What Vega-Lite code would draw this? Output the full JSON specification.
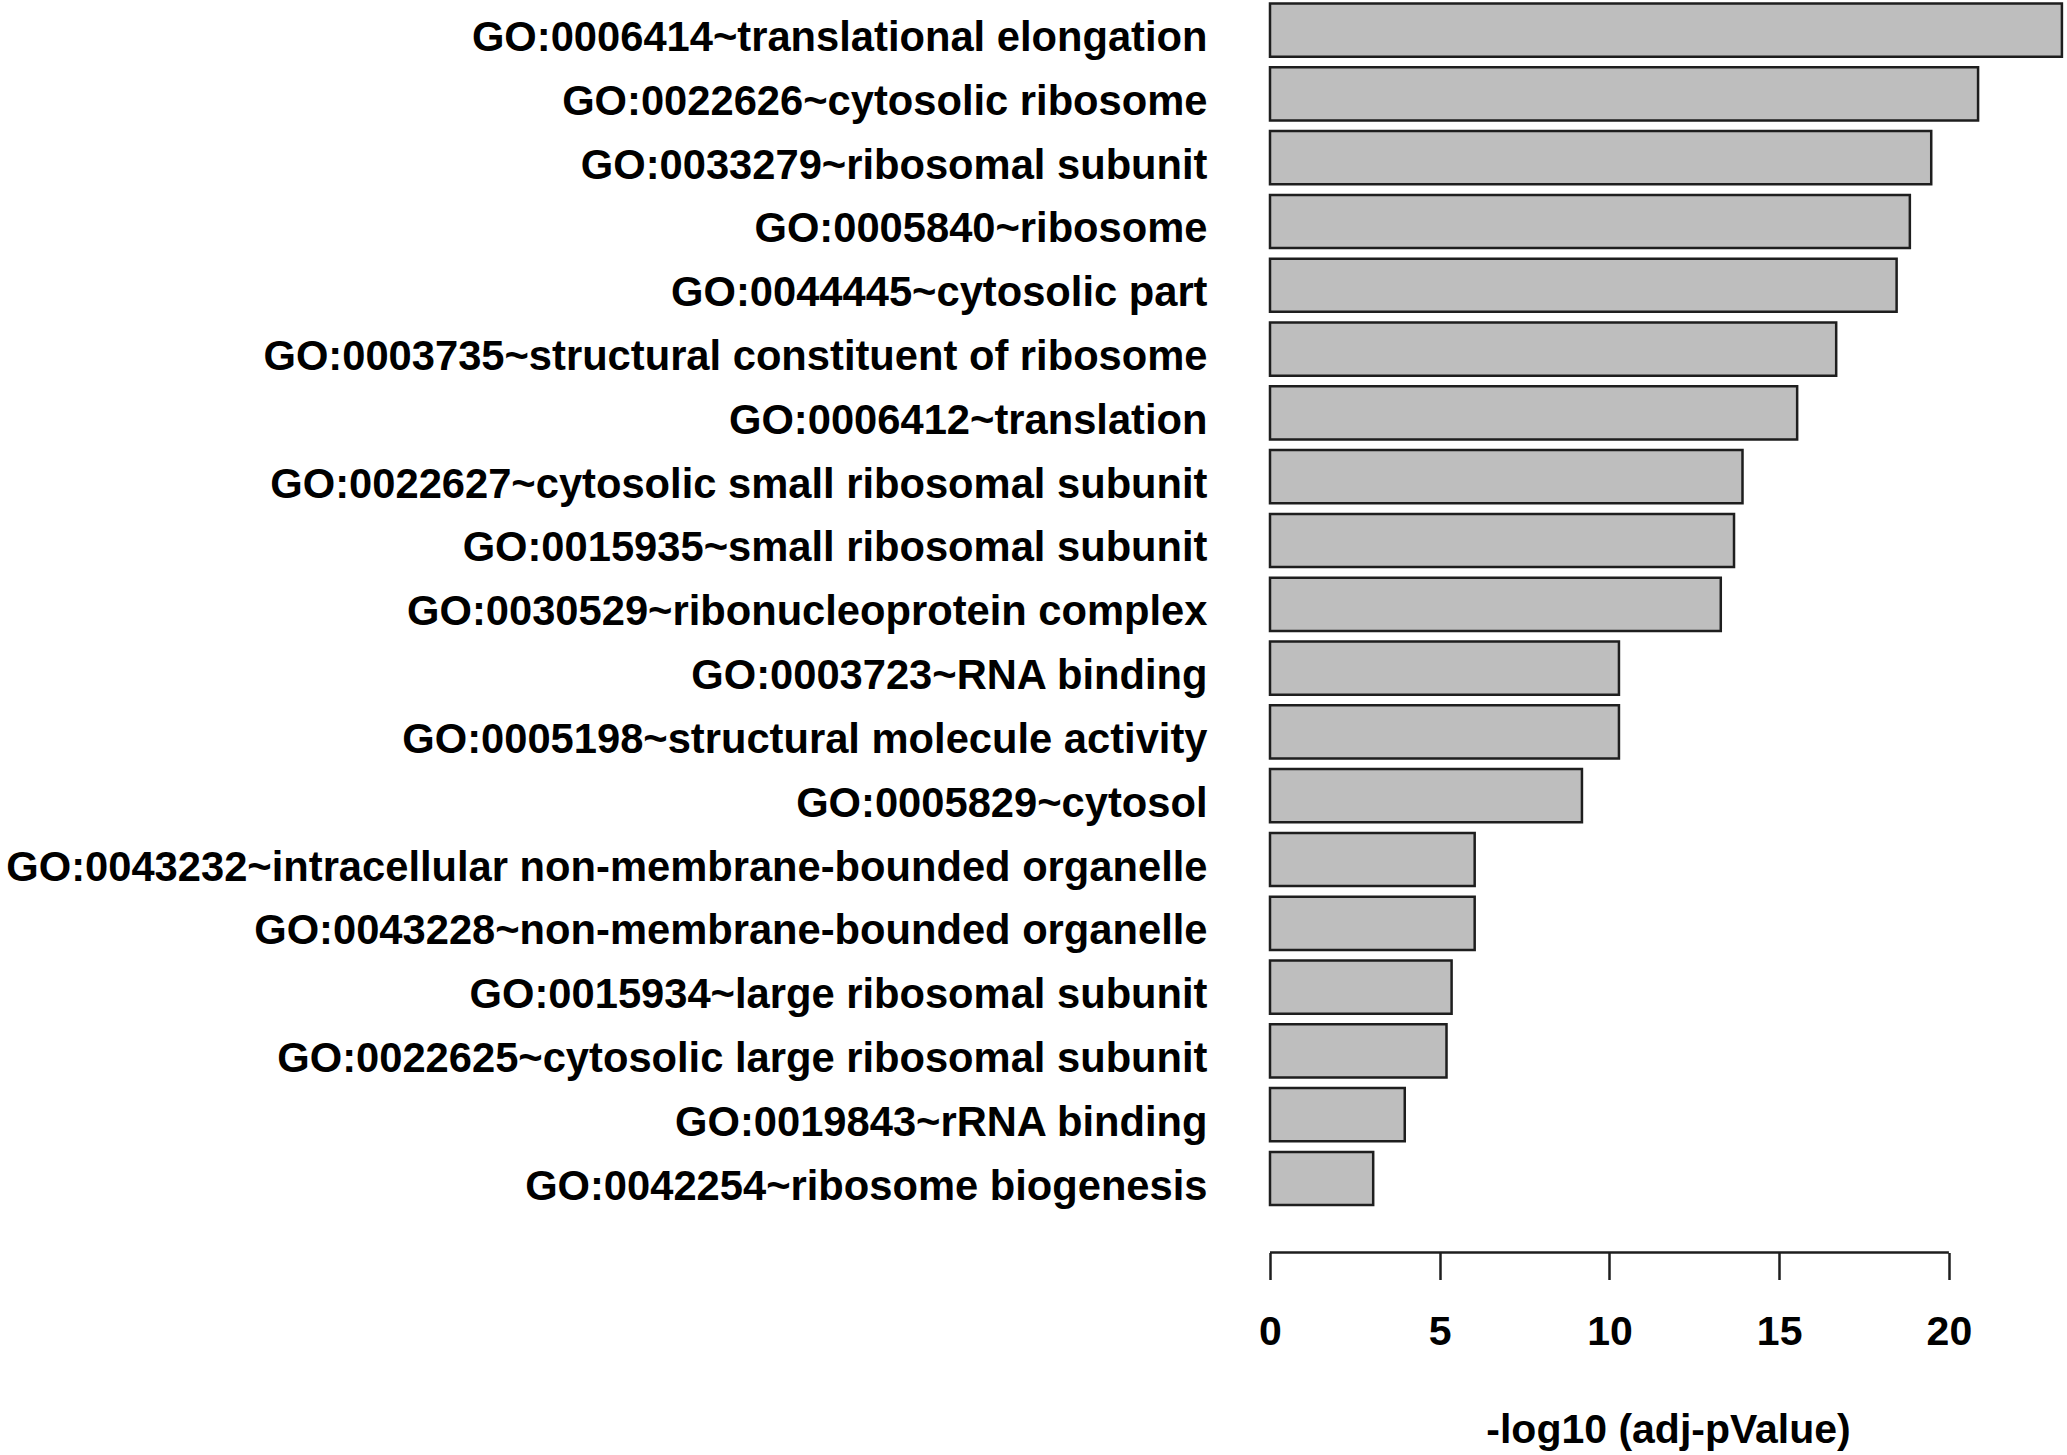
{
  "$schema": "https://vega.github.io/schema/vega-lite/v6.json",
  "autosize": {"type": "none"},
  "padding": {"left": 1270, "top": 3.5, "right": 1, "bottom": 186},
  "width": 796,
  "height": 1265.4,
  "background": "white",
  "config": {
    "view": {"stroke": null},
    "font": "Liberation Sans",
    "axis": {"labelFont": "Liberation Sans", "titleFont": "Liberation Sans", "labelColor": "black", "titleColor": "black"}
  },
  "layer": [
    {
      "data": {
        "values": [
          {"term": "GO:0006414~translational elongation", "score": 23.33},
          {"term": "GO:0022626~cytosolic ribosome", "score": 20.86},
          {"term": "GO:0033279~ribosomal subunit", "score": 19.48},
          {"term": "GO:0005840~ribosome", "score": 18.85},
          {"term": "GO:0044445~cytosolic part", "score": 18.46},
          {"term": "GO:0003735~structural constituent of ribosome", "score": 16.68},
          {"term": "GO:0006412~translation", "score": 15.53},
          {"term": "GO:0022627~cytosolic small ribosomal subunit", "score": 13.92},
          {"term": "GO:0015935~small ribosomal subunit", "score": 13.67},
          {"term": "GO:0030529~ribonucleoprotein complex", "score": 13.28},
          {"term": "GO:0003723~RNA binding", "score": 10.28},
          {"term": "GO:0005198~structural molecule activity", "score": 10.28},
          {"term": "GO:0005829~cytosol", "score": 9.19},
          {"term": "GO:0043232~intracellular non-membrane-bounded organelle", "score": 6.03},
          {"term": "GO:0043228~non-membrane-bounded organelle", "score": 6.03},
          {"term": "GO:0015934~large ribosomal subunit", "score": 5.35},
          {"term": "GO:0022625~cytosolic large ribosomal subunit", "score": 5.2},
          {"term": "GO:0019843~rRNA binding", "score": 3.97},
          {"term": "GO:0042254~ribosome biogenesis", "score": 3.04}
        ]
      },
      "mark": {"type": "bar", "fill": "#bebebe", "stroke": "#1e1e1e", "strokeWidth": 2.5},
      "encoding": {
        "y": {
          "field": "term",
          "type": "nominal",
          "sort": null,
          "scale": {
            "domain": [
              "GO:0006414~translational elongation",
              "GO:0022626~cytosolic ribosome",
              "GO:0033279~ribosomal subunit",
              "GO:0005840~ribosome",
              "GO:0044445~cytosolic part",
              "GO:0003735~structural constituent of ribosome",
              "GO:0006412~translation",
              "GO:0022627~cytosolic small ribosomal subunit",
              "GO:0015935~small ribosomal subunit",
              "GO:0030529~ribonucleoprotein complex",
              "GO:0003723~RNA binding",
              "GO:0005198~structural molecule activity",
              "GO:0005829~cytosol",
              "GO:0043232~intracellular non-membrane-bounded organelle",
              "GO:0043228~non-membrane-bounded organelle",
              "GO:0015934~large ribosomal subunit",
              "GO:0022625~cytosolic large ribosomal subunit",
              "GO:0019843~rRNA binding",
              "GO:0042254~ribosome biogenesis",
              ""
            ],
            "paddingInner": 0.1667,
            "paddingOuter": 0
          },
          "axis": {
            "title": null,
            "domain": false,
            "ticks": false,
            "labelFontSize": 41.7,
            "labelFontWeight": "bold",
            "labelPadding": 63,
            "labelOffset": 8,
            "labelLimit": 0
          }
        },
        "x": {
          "field": "score",
          "type": "quantitative",
          "scale": {"domain": [0, 23.45], "nice": false, "zero": true},
          "axis": {
            "title": "-log10 (adj-pValue)",
            "values": [0, 5, 10, 15, 20],
            "grid": false,
            "domain": false,
            "offset": -16.4,
            "tickSize": 27,
            "tickWidth": 2.5,
            "tickColor": "#1e1e1e",
            "labelFontSize": 41,
            "labelFontWeight": "bold",
            "labelPadding": 33,
            "labelFlush": false,
            "titleFontSize": 41,
            "titleFontWeight": "bold",
            "titlePadding": 58
          }
        }
      }
    },
    {
      "data": {"values": [{"term": "", "start": 0, "end": 20}]},
      "mark": {"type": "rule", "stroke": "#1e1e1e", "strokeWidth": 2.5},
      "encoding": {
        "y": {"field": "term", "type": "nominal", "bandPosition": 0.69},
        "x": {"field": "start", "type": "quantitative"},
        "x2": {"field": "end"}
      }
    }
  ]
}
